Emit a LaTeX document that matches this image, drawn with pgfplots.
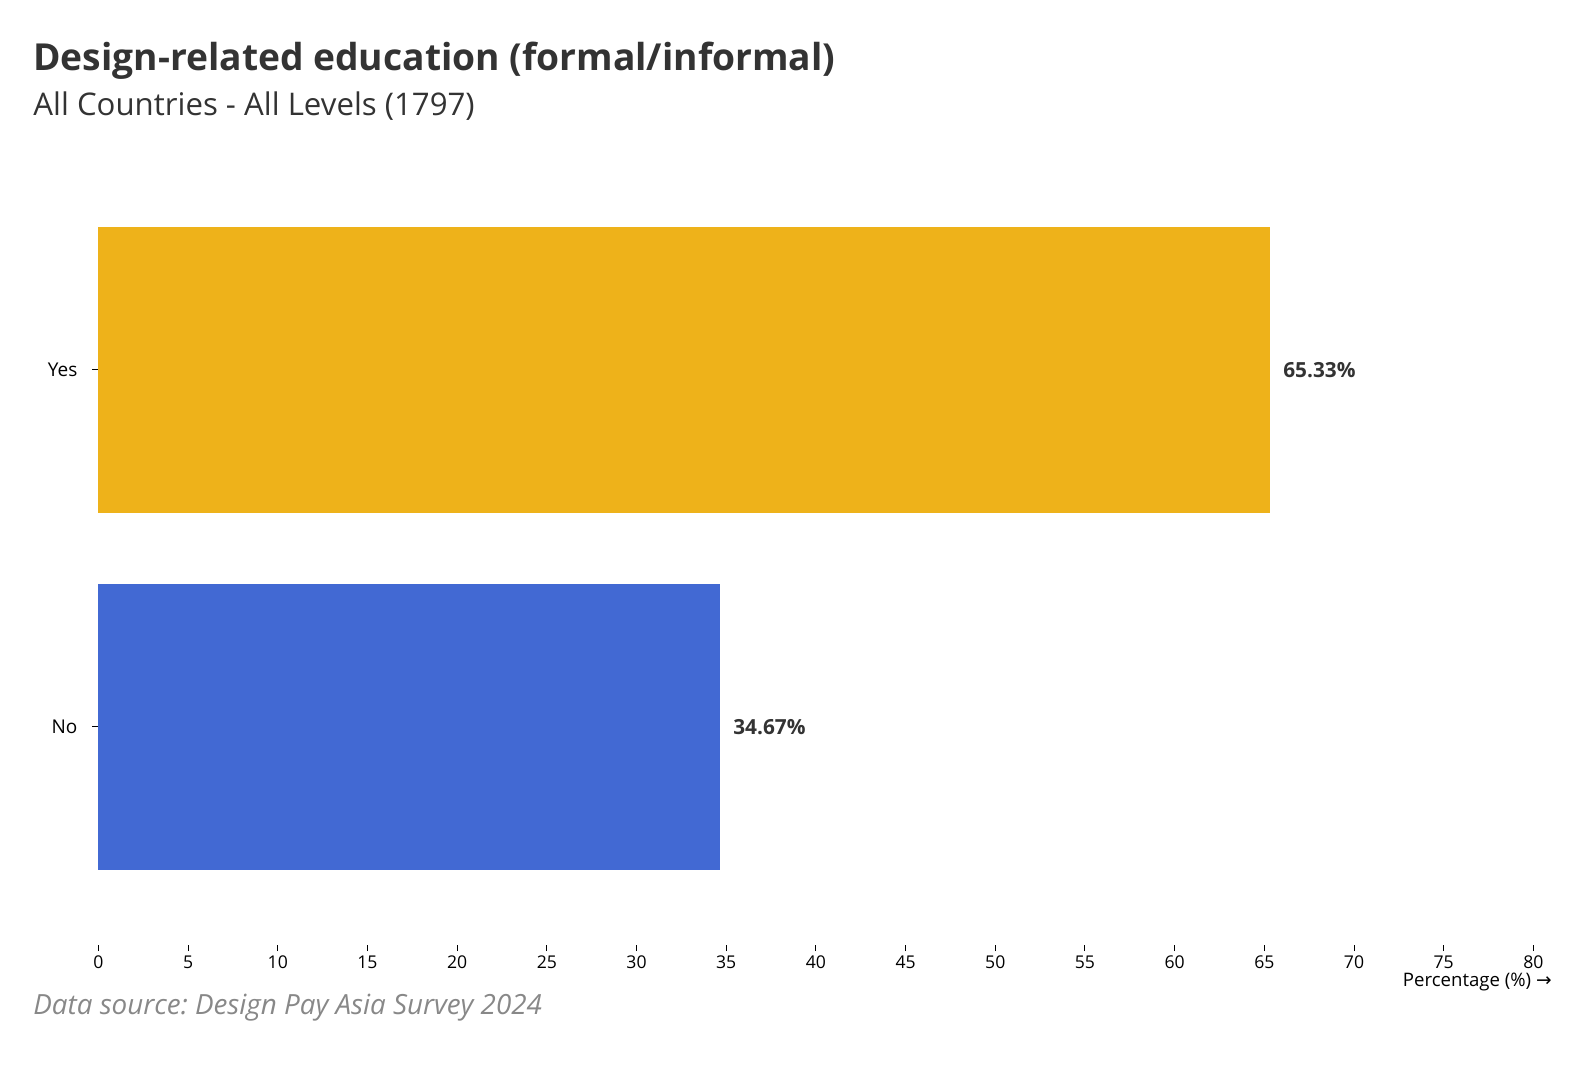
\documentclass[border=0pt]{standalone}
\usepackage{pgfplots}
\pgfplotsset{compat=1.18}
\usepackage{fontspec}
\setmainfont{Open Sans}
\newfontfamily\arrowfont{DejaVu Sans}
\definecolor{yel}{RGB}{238,178,26}
\definecolor{blu}{RGB}{66,105,211}
\definecolor{ttl}{RGB}{51,51,51}
\definecolor{src}{RGB}{136,136,136}
\frenchspacing
\begin{document}
\begin{tikzpicture}[x=1pt,y=1pt]
\path[use as bounding box] (0,0) rectangle (795,542);
\node[anchor=base west,inner sep=0,text=ttl,font=\fontsize{18.6}{20}\selectfont\bfseries] at (16.5,506.5) {Design-related education (formal/informal)};
\node[anchor=base west,inner sep=0,text=ttl,font=\fontsize{15.6}{17}\selectfont] at (16.5,484) {All Countries - All Levels (1797)};
\node[anchor=base west,inner sep=0,text=src,font=\fontsize{13.9}{15}\selectfont\itshape] at (16.5,35) {Data source: Design Pay Asia Survey 2024};
\begin{axis}[
  at={(49.2pt,69.5pt)}, anchor=south west,
  scale only axis, width=717.5pt, height=398pt,
  xmin=0, xmax=80, ymin=-0.611, ymax=1.619,
  xtick={0,5,...,80},
  ytick={0,1}, yticklabels={No,Yes},
  axis line style={draw=none},
  tick align=outside, major tick length=3pt,
  tick style={black, line width=0.5pt},
  xtick pos=bottom, ytick pos=left,
  ticklabel style={font=\fontsize{8.8}{10}\selectfont, text=black},
  /pgf/number format/assume math mode=true,
  xticklabel style={yshift=1pt},
  yticklabel style={xshift=-4pt, font=\fontsize{9.5}{10}\selectfont},
  xbar, bar width=0.8, bar shift=0pt,
  clip=false,
  nodes near coords={\textbf{\pgfmathprintnumber[fixed,precision=2,fixed zerofill]{\pgfplotspointmeta}\%}},
  nodes near coords style={anchor=west, xshift=3pt, font=\fontsize{10.4}{12}\selectfont, text=ttl},
  point meta=x,
]
\addplot[draw=none, fill=yel] coordinates {(65.33,1)};
\addplot[draw=none, fill=blu] coordinates {(34.67,0)};
\end{axis}
\node[anchor=base east,inner sep=0,font=\fontsize{9.3}{10}\selectfont] at (776,49) {Percentage (\%) {\arrowfont →}};
\end{tikzpicture}
\end{document}
